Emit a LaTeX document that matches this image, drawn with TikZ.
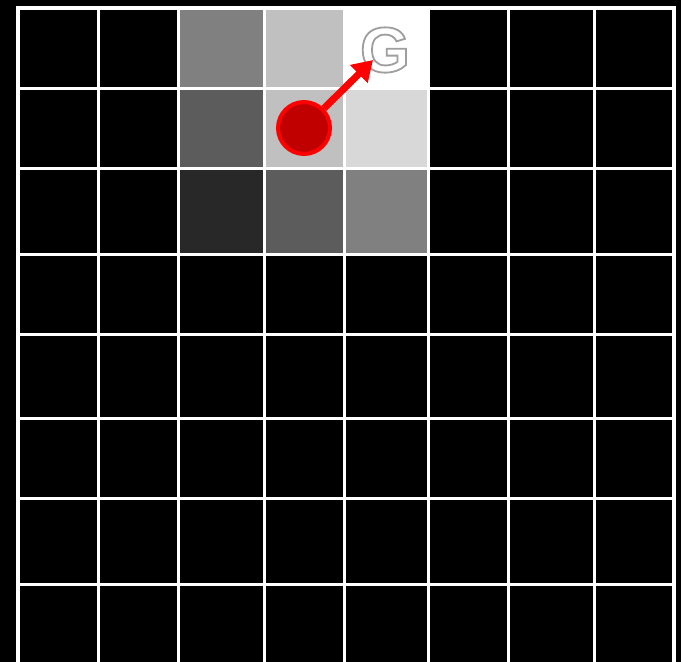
\documentclass[tikz,border=0pt]{standalone}
\usepackage{fontspec}
\newfontfamily\goalfont{Liberation Sans}
\usetikzlibrary{arrows.meta}
\begin{document}
\begin{tikzpicture}[x=1pt, y=-1pt,
    gridline/.style={white, line width=3pt},
    agent/.style={draw=red, fill=agentred, circle, line width=4pt, minimum size=52pt, inner sep=0pt},
    move/.style={-{Triangle[length=20pt, width=24pt]}, red, line width=7pt},
    goaltext/.style={inner sep=0pt, text=white, font=\goalfont\bfseries\fontsize{64}{64}\selectfont}]
    \definecolor{agentred}{RGB}{192,0,0}
    \definecolor{shadeA}{RGB}{128,128,128}
    \definecolor{shadeB}{RGB}{192,192,192}
    \definecolor{shadeC}{RGB}{216,216,216}
    \definecolor{shadeD}{RGB}{92,92,92}
    \definecolor{shadeE}{RGB}{40,40,40}

    % Background
    \fill[black] (0,0) rectangle (681,662);
    \clip (0,0) rectangle (681,662);

    % Draw cells
    \foreach \xa/\ya/\xb/\yb/\col in {
        178/8/264/88/shadeA, 264/8/344/88/shadeB, 344/8/428/88/white,
        178/88/264/168/shadeD, 264/88/344/168/shadeB, 344/88/428/168/shadeC,
        178/168/264/254/shadeE, 264/168/344/254/shadeD, 344/168/428/254/shadeA}
        \fill[\col] (\xa,\ya) rectangle (\xb,\yb);

    % Draw grid
    \foreach \x in {98,178,264,344,428,508,594}
        \draw[gridline] (\x,8) -- (\x,664);
    \foreach \y in {88,168,254,334,418,498,584}
        \draw[gridline] (18,\y) -- (674,\y);
    \draw[white, line width=4pt] (18,8) rectangle (674,664);

    % Goal (white letter with a grey edge)
    \node[goaltext] (goal) at (385,50)
        {\special{pdf:literal direct 2 Tr 1.8 w 0.62 G}G\special{pdf:literal direct 0 Tr}};

    % Agent
    \node[agent] (agent) at (304,128) {};
    \coordinate (tip) at (373,60);
    \draw[move] (agent) -- (tip);
\end{tikzpicture}
\end{document}
